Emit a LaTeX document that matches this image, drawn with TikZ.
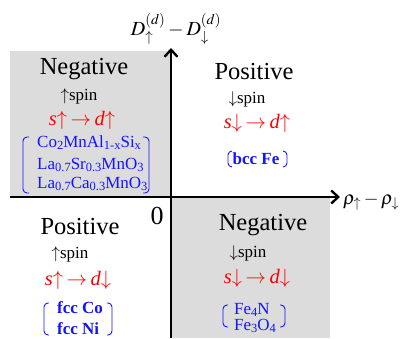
\documentclass[tikz,border=0pt]{standalone}
\usepackage{mathptmx}
\usepackage{fontspec}
\setmainfont{Liberation Serif}
\usetikzlibrary{arrows.meta}
\definecolor{boxgray}{RGB}{220,220,220}
\definecolor{myred}{RGB}{255,0,0}
\definecolor{myblue}{RGB}{20,20,255}
\newcommand{\mysub}[1]{\raisebox{-0.3ex}{\fontsize{12.5}{13}\selectfont #1}}
\begin{document}
\begin{tikzpicture}[x=1pt,y=-1pt,
  title/.style={font=\fontsize{24.5}{26}\selectfont, inner sep=0pt},
  spintxt/.style={font=\fontsize{17}{19}\selectfont, inner sep=0pt},
  trans/.style={text=myred, font=\fontsize{20.5}{22}\selectfont, inner sep=0pt},
  mat/.style={text=myblue, font=\fontsize{17}{19}\selectfont, inner sep=0pt, anchor=base west},
  brk/.style={draw=myblue, line width=0.9pt, rounded corners=4pt},
  axis/.style={line width=2.4pt, -{Straight Barb[length=7pt,width=13pt,line width=2.4pt]}}
]
\useasboundingbox (0,0) rectangle (401,338);
\fill[boxgray] (10,51) rectangle (171,197);
\fill[boxgray] (171,197) rectangle (330,338);
\coordinate (xs) at (10,197);
\coordinate (xe) at (340,197);
\coordinate (ys) at (171,338);
\coordinate (ye) at (171,48);
\draw[axis] (xs) -- (xe);
\draw[axis] (ys) -- (ye);

\node[font=\fontsize{19}{21}\selectfont, anchor=west, inner sep=0pt] (xl) at (343,202) {$\rho_{\uparrow} - \rho_{\downarrow}$};
\node[font=\fontsize{20}{22}\selectfont, inner sep=0pt] (yl) at (176,29) {$D^{(d)}_{\uparrow} - D^{(d)}_{\downarrow}$};
\node[font=\fontsize{26}{28}\selectfont, inner sep=0pt] (zero) at (157,216) {0};

% top left
\node[title] (tlt) at (84,69) {Negative};
\node[spintxt] (tls) at (79,96) {$\uparrow$spin};
\node[trans] (tlr) at (82,120) {\textit{s}$\uparrow$\,$\rightarrow$\,\textit{d}$\uparrow$};
\node[mat] (tlm1) at (37,147) {Co\mysub{2}MnAl\mysub{1-x}Si\mysub{x}};
\node[mat] (tlm2) at (37,169) {La\mysub{0.7}Sr\mysub{0.3}MnO\mysub{3}};
\node[mat] (tlm3) at (37,188) {La\mysub{0.7}Ca\mysub{0.3}MnO\mysub{3}};
\draw[brk] (29,137) -- (23,137) -- (23,193) -- (29,193);
\draw[brk] (143,137) -- (149,137) -- (149,193) -- (143,193);

% top right
\node[title] (trt) at (254,72) {Positive};
\node[spintxt] (trs) at (247,99) {$\downarrow$spin};
\node[trans] (trr) at (257,123) {\textit{s}$\downarrow$\,$\rightarrow$\,\textit{d}$\uparrow$};
\node[mat, anchor=base] (trm) at (256,164) {\textbf{bcc Fe}};
\draw[brk] (232,151) -- (228,151) -- (228,167) -- (232,167);
\draw[brk] (283,151) -- (287,151) -- (287,167) -- (283,167);

% bottom left
\node[title] (blt) at (80,227) {Positive};
\node[spintxt] (bls) at (70,254) {$\uparrow$spin};
\node[trans] (blr) at (78,280) {\textit{s}$\uparrow$\,$\rightarrow$\,\textit{d}$\downarrow$};
\node[mat] (blm1) at (57,313) {\textbf{fcc Co}};
\node[mat] (blm2) at (57,334) {\textbf{fcc Ni}};
\draw[brk] (49,303) -- (44,303) -- (44,335) -- (49,335);
\draw[brk] (107,303) -- (112,303) -- (112,335) -- (107,335);

% bottom right
\node[title] (brt) at (263,225) {Negative};
\node[spintxt] (brs) at (248,253) {$\downarrow$spin};
\node[trans] (brr) at (257,278) {\textit{s}$\downarrow$\,$\rightarrow$\,\textit{d}$\downarrow$};
\node[mat] (brm1) at (234,314) {Fe\mysub{4}N};
\node[mat] (brm2) at (234,330) {Fe\mysub{3}O\mysub{4}};
\draw[brk] (228,305) -- (223,305) -- (223,327) -- (228,327);
\draw[brk] (280,305) -- (285,305) -- (285,327) -- (280,327);
\end{tikzpicture}
\end{document}
